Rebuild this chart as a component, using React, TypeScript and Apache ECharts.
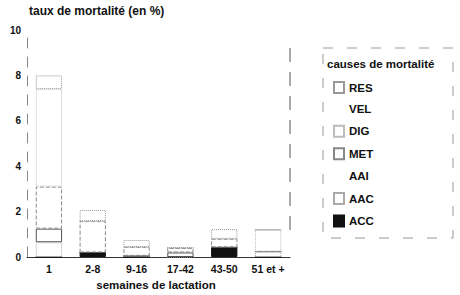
import React, { useEffect, useRef } from "react";
import * as echarts from "echarts";

const categories = ["1", "2-8", "9-16", "17-42", "43-50", "51 et +"];
const ACC = [0, 0.2, 0, 0, 0.43, 0];
const AAC = [0.65, 0, 0.05, 0, 0, 0.24];
const AAI = [0.6, 0, 0, 0.2, 0, 0];
const MET = [1.85, 1.38, 0.39, 0.2, 0.37, 0];
const DIG = [4.3, 0, 0, 0, 0, 0.96];
const VEL = [0, 0, 0, 0, 0, 0];
const RES = [0.6, 0.49, 0.31, 0, 0.43, 0];
const legendOrder = ["RES", "VEL", "DIG", "MET", "AAI", "AAC", "ACC"];

const FONT = "'Liberation Sans', Arial, sans-serif";

export default function App() {
  const ref = useRef<HTMLDivElement>(null);
  useEffect(() => {
    if (!ref.current) return;
    const chart = echarts.init(ref.current, undefined, { renderer: "svg" });
    const mk = (name: string, data: number[], fill: string, border: string, type: any, bw = 1) => ({
      name,
      type: "bar",
      stack: "total",
      data,
      barWidth: "60%",
      itemStyle: { color: fill, borderColor: border, borderWidth: bw, borderType: type },
    });
    chart.setOption({
      animation: false,
      backgroundColor: "#fff",
      textStyle: { fontFamily: FONT },
      grid: { left: 27, right: 170, top: 30, bottom: 38 },
      xAxis: {
        type: "category",
        data: categories,
        axisLine: { lineStyle: { color: "#333", width: 1 } },
        axisTick: { show: false },
        axisLabel: { interval: 0, color: "#111", fontWeight: "bold", fontSize: 10.5, margin: 6, fontFamily: FONT },
      },
      yAxis: {
        type: "value",
        min: 0,
        max: 10,
        interval: 2,
        axisLine: { show: true, lineStyle: { color: "#888", type: [10, 9] } },
        axisTick: { show: false },
        splitLine: { show: false },
        axisLabel: { color: "#111", fontWeight: "bold", fontSize: 10, margin: 6, fontFamily: FONT },
      },
      legend: {
        orient: "vertical",
        left: 328,
        top: 76,
        icon: "rect",
        itemWidth: 10,
        itemHeight: 11,
        itemGap: 9.4,
        data: legendOrder.map((n) =>
          n === "AAI" ? { name: n, itemStyle: { borderColor: "#fff" } } : { name: n }
        ),
        textStyle: { color: "#111", fontWeight: "bold", fontSize: 11.5, fontFamily: FONT },
        selectedMode: false,
      },
      series: [
        mk("ACC", ACC, "#111", "#111", "solid"),
        mk("AAC", AAC, "#fff", "#aaa", "dotted"),
        mk("AAI", AAI, "#fff", "#555", "solid"),
        mk("MET", MET, "#fff", "#888", "dashed"),
        mk("DIG", DIG, "#fff", "#bbb", "dotted"),
        mk("VEL", VEL, "#fff", "#fff", "solid", 0),
        mk("RES", RES, "#fff", "#999", "dotted"),
      ],
      graphic: [
        {
          type: "text",
          left: 29,
          top: 5,
          style: { text: "taux de mortalité (en %)", fill: "#111", font: `bold 12px ${FONT}` },
        },
        {
          type: "text",
          x: 156,
          y: 285,
          style: {
            text: "semaines de lactation",
            fill: "#111",
            font: `bold 11.5px ${FONT}`,
            align: "center",
            verticalAlign: "middle",
          },
        },
        {
          type: "text",
          left: 327,
          top: 58,
          style: { text: "causes de mortalité", fill: "#111", font: `bold 11.5px ${FONT}` },
        },
        {
          type: "line",
          shape: { x1: 290, y1: 48, x2: 290, y2: 237 },
          style: { stroke: "#555", lineWidth: 1, lineDash: [14, 10] },
        },
        {
          type: "rect",
          shape: { x: 323, y: 48, width: 130, height: 190 },
          style: { fill: "none", stroke: "#999", lineWidth: 1, lineDash: [10, 14] },
        },
      ],
    });
    return () => chart.dispose();
  }, []);
  return (
    <div
      ref={ref}
      style={{ position: "absolute", left: 0, top: 0, width: 460, height: 295 }}
    />
  );
}
